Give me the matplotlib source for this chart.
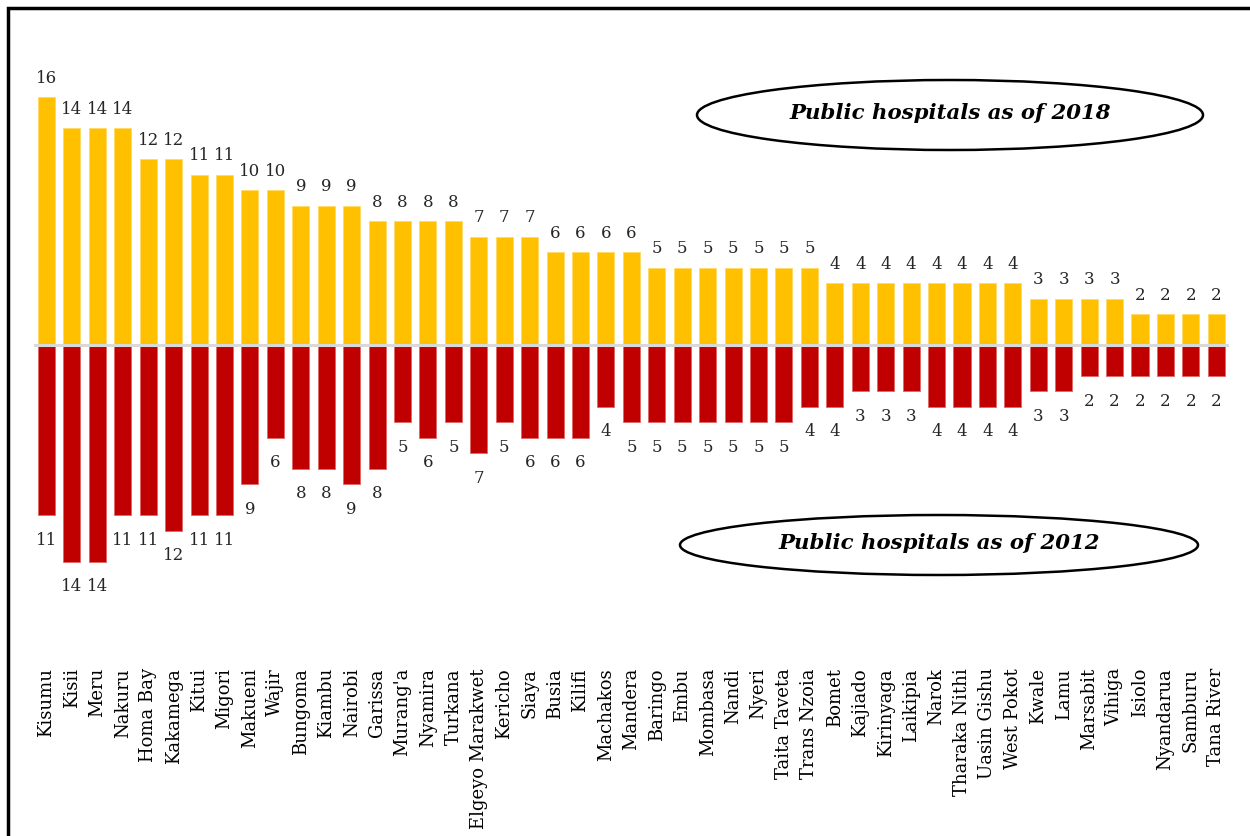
import matplotlib
matplotlib.use("Agg")
import matplotlib.pyplot as plt
from matplotlib.patches import Ellipse, Rectangle
import numpy as np

counties = [
    "Kisumu", "Kisii", "Meru", "Nakuru", "Homa Bay", "Kakamega", "Kitui", "Migori",
    "Makueni", "Wajir", "Bungoma", "Kiambu", "Nairobi", "Garissa", "Murang'a",
    "Nyamira", "Turkana", "Elgeyo Marakwet", "Kericho", "Siaya", "Busia", "Kilifi",
    "Machakos", "Mandera", "Baringo", "Embu", "Mombasa", "Nandi", "Nyeri",
    "Taita Taveta", "Trans Nzoia", "Bomet", "Kajiado", "Kirinyaga", "Laikipia",
    "Narok", "Tharaka Nithi", "Uasin Gishu", "West Pokot", "Kwale", "Lamu",
    "Marsabit", "Vihiga", "Isiolo", "Nyandarua", "Samburu", "Tana River",
]
hospitals_2018 = [16, 14, 14, 14, 12, 12, 11, 11, 10, 10, 9, 9, 9, 8, 8, 8, 8, 7, 7, 7,
                  6, 6, 6, 6, 5, 5, 5, 5, 5, 5, 5, 4, 4, 4, 4, 4, 4, 4, 4, 3, 3, 3, 3,
                  2, 2, 2, 2]
hospitals_2012 = [11, 14, 14, 11, 11, 12, 11, 11, 9, 6, 8, 8, 9, 8, 5, 6, 5, 7, 5, 6,
                  6, 6, 4, 5, 5, 5, 5, 5, 5, 5, 4, 4, 3, 3, 3, 4, 4, 4, 4, 3, 3, 2, 2,
                  2, 2, 2, 2]

YELLOW = "#FFC000"
RED = "#C00000"
SERIF = ["DejaVu Serif"]

fig = plt.figure(figsize=(12.5, 8.36), dpi=100)
ax = fig.add_axes([0.02704, 0.22578, 0.95616, 0.70454])

x = np.arange(len(counties))
ax.bar(x, hospitals_2018, width=0.67, color=YELLOW, edgecolor="#FFD966", linewidth=0.6)
ax.bar(x, [-v for v in hospitals_2012], width=0.67, color=RED, edgecolor="#E06666", linewidth=0.6)
ax.axhline(0, color="#D9D9D9", lw=2.2, zorder=3)

for i, (a, b) in enumerate(zip(hospitals_2018, hospitals_2012)):
    ax.annotate(str(a), (i, a), xytext=(0, 13.5), textcoords="offset points",
                ha="center", va="center", fontsize=12, family=SERIF, color="#262626")
    ax.annotate(str(b), (i, -b), xytext=(0, -18), textcoords="offset points",
                ha="center", va="center", fontsize=12, family=SERIF, color="#262626")

ax.set_xlim(-0.5, len(counties) - 0.5)
ax.set_ylim(-19.5, 18.5)
ax.set_xticks(x)
ax.set_xticklabels(counties, rotation=90, fontsize=13, family=SERIF)
ax.tick_params(axis="x", length=0, pad=15)
ax.set_yticks([])
for s in ax.spines.values():
    s.set_visible(False)

# callout ellipses
for (cx, cy, w, h, label) in [(950, 115, 506, 70, "Public hospitals as of 2018"),
                              (939, 545, 518, 60, "Public hospitals as of 2012")]:
    fig.patches.append(Ellipse((cx / 1250, 1 - cy / 836), w / 1250, h / 836,
                               transform=fig.transFigure, fill=False, ec="black", lw=1.8))
    fig.text(cx / 1250, 1 - (cy - 2) / 836, label, ha="center", va="center",
             fontsize=15.3, fontweight="bold", fontstyle="italic", family=SERIF)

# outer frame
fig.patches.append(Rectangle((8 / 1250, -0.1), 1.2, 1 - 8 / 836 + 0.1,
                             transform=fig.transFigure, fill=False, ec="black", lw=2.5))

fig.savefig("out.png", dpi=100)
